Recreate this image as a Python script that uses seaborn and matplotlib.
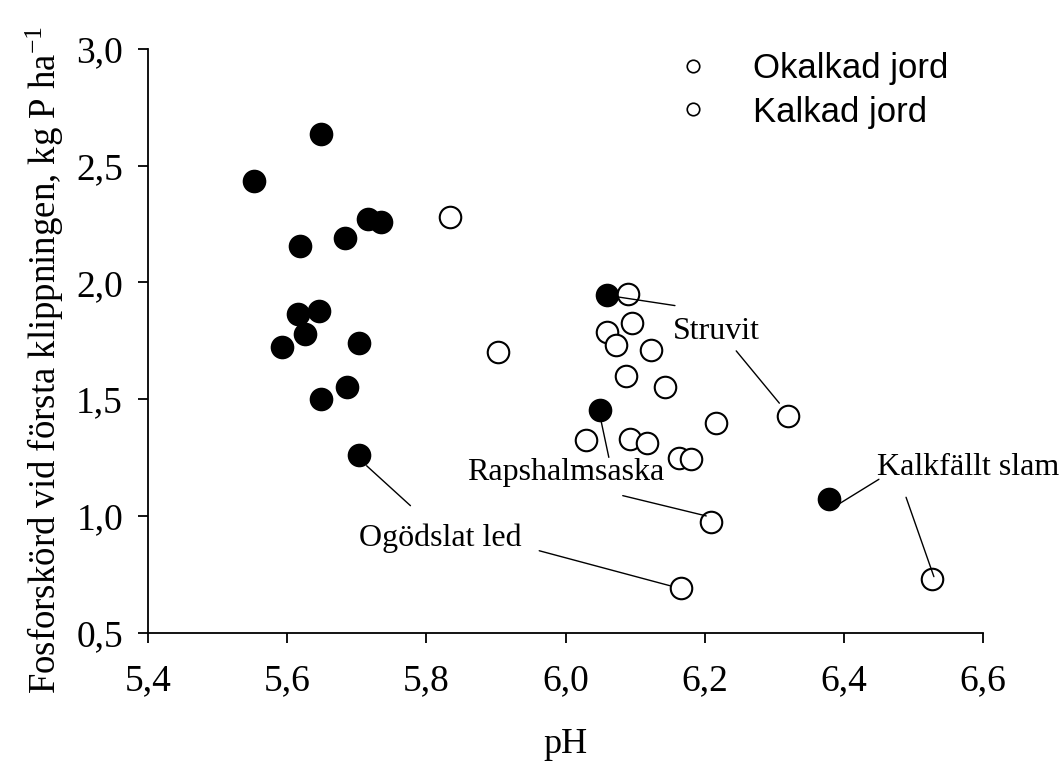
import seaborn as sns
import matplotlib.pyplot as plt
from matplotlib.lines import Line2D

# Okalkad jord (filled markers)
okalkad_ph = [5.649, 5.552, 5.716, 5.734, 5.683, 5.619, 5.646, 5.616, 5.626,
              5.593, 5.703, 5.686, 5.649, 5.703, 6.060, 6.049, 6.379]
okalkad_p = [2.635, 2.434, 2.271, 2.258, 2.192, 2.158, 1.878, 1.867, 1.780,
             1.723, 1.740, 1.551, 1.500, 1.261, 1.947, 1.453, 1.074]

# Kalkad jord (open markers)
kalkad_ph = [5.834, 5.903, 6.090, 6.095, 6.059, 6.072, 6.122, 6.086, 6.142,
             6.320, 6.029, 6.093, 6.117, 6.216, 6.163, 6.180, 6.209, 6.166, 6.526]
kalkad_p = [2.280, 1.701, 1.950, 1.826, 1.790, 1.733, 1.711, 1.601, 1.551,
            1.430, 1.324, 1.330, 1.311, 1.398, 1.247, 1.245, 0.976, 0.690, 0.729]

legend_labels = ['Okalkad jord', 'Kalkad jord']
x_ticks = [5.4, 5.6, 5.8, 6.0, 6.2, 6.4, 6.6]
y_ticks = [0.5, 1.0, 1.5, 2.0, 2.5, 3.0]

# annotation labels and their leader lines (data coords)
ann_texts = ['Struvit', 'Rapshalmsaska', 'Ogödslat led', 'Kalkfällt slam']
ann_pos = [(6.217, 1.792), (6.000, 1.184), (5.820, 0.906), (6.578, 1.206)]
ann_lines = [
    [((6.075, 1.938), (6.157, 1.901)), ((6.245, 1.707), (6.307, 1.483))],
    [((6.048, 1.447), (6.062, 1.251)), ((6.082, 1.087), (6.202, 1.000))],
    [((5.714, 1.215), (5.777, 1.044)), ((5.962, 0.851), (6.150, 0.701))],
    [((6.394, 1.054), (6.450, 1.157)), ((6.489, 1.080), (6.529, 0.740))],
]

sns.set_style('ticks')
plt.rcParams['font.family'] = ['Liberation Serif', 'DejaVu Serif']
plt.rcParams['mathtext.fontset'] = 'custom'
plt.rcParams['mathtext.rm'] = 'Liberation Serif'
plt.rcParams['mathtext.it'] = 'Liberation Serif'
for key in ['text.color', 'axes.labelcolor', 'xtick.color', 'ytick.color',
            'axes.edgecolor']:
    plt.rcParams[key] = 'black'

fig = plt.figure(figsize=(10.62, 7.62), dpi=100)
ax = fig.add_axes([0.1394, 0.1697, 0.7865, 0.766])

sns.scatterplot(x=okalkad_ph, y=okalkad_p, ax=ax, s=250, color='black',
                edgecolor='black', linewidth=1.2, legend=False, zorder=3)
sns.scatterplot(x=kalkad_ph, y=kalkad_p, ax=ax, s=240, color='white',
                edgecolor='black', linewidth=1.5, legend=False, zorder=3)

for txt, pos, segs in zip(ann_texts, ann_pos, ann_lines):
    ax.text(pos[0], pos[1], txt, fontsize=23, ha='center', va='center',
            zorder=5)
    for (x0, y0), (x1, y1) in segs:
        ax.plot([x0, x1], [y0, y1], color='black', lw=1.0, zorder=4)

ax.set_xlim(5.4, 6.6)
ax.set_ylim(0.5, 3.0)
ax.set_xticks(x_ticks)
ax.set_yticks(y_ticks)
ax.set_xticklabels([f'{v:.1f}'.replace('.', ',') for v in x_ticks])
ax.set_yticklabels([f'{v:.1f}'.replace('.', ',') for v in y_ticks])
ax.tick_params(axis='both', labelsize=27, length=7, width=1.3,
               direction='out', color='black')
ax.tick_params(axis='x', pad=15)
ax.tick_params(axis='y', pad=11)
for side in ['left', 'bottom']:
    ax.spines[side].set_linewidth(1.3)
sns.despine(ax=ax)

ax.set_xlabel('pH', fontsize=26, labelpad=22)
ax.set_ylabel('Fosforskörd vid första klippningen, kg P ha$^{-1}$', fontsize=26.5)
ax.yaxis.set_label_coords(-0.098, 0.467)

handles = [Line2D([], [], marker='o', linestyle='', markersize=9,
                  markerfacecolor='white', markeredgecolor='black',
                  markeredgewidth=1.2) for _ in legend_labels]
ax.legend(handles, legend_labels, loc='upper left',
          bbox_to_anchor=(0.573, 1.048), frameon=False,
          prop={'family': 'Liberation Sans', 'size': 25},
          handletextpad=0.75, labelspacing=0.3)

fig.savefig('out.png', dpi=100)
